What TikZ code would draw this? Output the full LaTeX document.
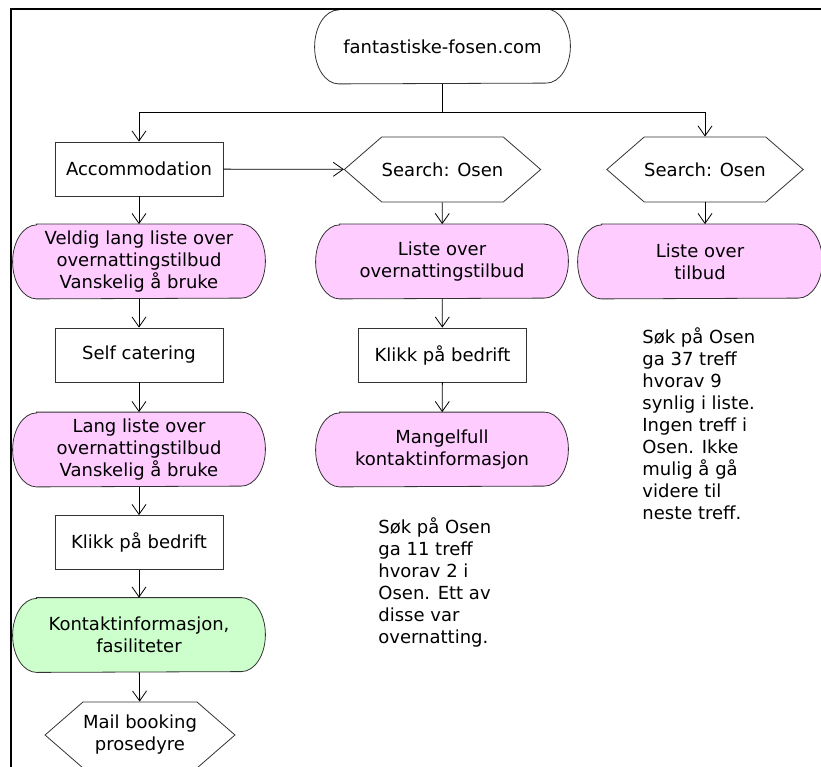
\documentclass[tikz,border=0pt]{standalone}
\usepackage{fontspec}
\setmainfont{DejaVu Sans}
\usetikzlibrary{shapes.symbols,arrows.meta,backgrounds}
\definecolor{pinkfill}{RGB}{255,204,255}
\definecolor{greenfill}{RGB}{204,255,204}

\begin{document}
\begin{tikzpicture}[x=1pt,y=-1pt,
    font=\fontsize{18}{22}\selectfont,
    every node/.style={draw=black!80, line width=0.8pt, align=center, inner sep=0pt},
    pill/.style={draw=none, minimum width=204, minimum height=74},
    box/.style={rectangle, minimum width=168, minimum height=54},
    hexa/.style={signal, signal from=nowhere, signal to=west and east,
                 signal pointer angle=82, minimum width=188, minimum height=65},
    note/.style={draw=none, anchor=north west, align=left},
    arr/.style={-{Straight Barb[length=10pt,width=14pt]}, line width=0.8pt}]

    \useasboundingbox (0,0) rectangle (821,767);
    \clip (0,0) rectangle (821,767);
    \path[draw, line width=2.5pt] (11,767) -- (11,9) -- (821,9);

    \node[pill, minimum width=207] (site) at (442.5,46.5) {fantastiske-fosen.com};

    \node[box] (accom) at (139,169) {Accommodation};
    \node[hexa] (search1) at (442.5,169.5) {Search: Osen};
    \node[hexa] (search2) at (705,169.5) {Search: Osen};

    \node[pill] (list1) at (139,261.5)
        {Veldig lang liste over\\overnattingstilbud\\Vanskelig å bruke};
    \node[pill] (list2) at (442,261.5) {Liste over\\overnattingstilbud};
    \node[pill, minimum width=196] (list3) at (700,261.5) {Liste over\\tilbud};

    \node[box] (selfcat) at (139,355) {Self catering};
    \node[box] (click2) at (442.5,355) {Klikk på bedrift};

    \node[pill] (list4) at (139,449.5)
        {Lang liste over\\overnattingstilbud\\Vanskelig å bruke};
    \node[pill] (missing) at (442,449.5) {Mangelfull\\kontaktinformasjon};

    \node[box] (click1) at (139,542.5) {Klikk på bedrift};
    \node[pill] (contact) at (139,635) {Kontaktinformasjon,\\fasiliteter};
    \node[hexa, minimum height=66] (mail) at (140,735) {Mail booking\\prosedyre};

    \node[note] (note1) at (378,517)
        {Søk på Osen\\ga 11 treff\\hvorav 2 i\\Osen. Ett av\\disse var\\overnatting.};
    \node[note] (note2) at (642,327)
        {Søk på Osen\\ga 37 treff\\hvorav 9\\synlig i liste.\\Ingen treff i\\Osen. Ikke\\mulig å gå\\videre til\\neste treff.};

    \begin{scope}[on background layer]
        \foreach \n/\c in {site/white, list1/pinkfill, list2/pinkfill, list3/pinkfill,
                           list4/pinkfill, missing/pinkfill, contact/greenfill}
            \path[draw=black!80, fill=\c, line width=0.8pt]
                (\n.north west) -- (\n.north east)
                arc[start angle=90, end angle=-90, x radius=24pt, y radius=37pt]
                -- (\n.south west)
                arc[start angle=270, end angle=90, x radius=24pt, y radius=37pt]
                -- cycle;
    \end{scope}

    \coordinate (split) at (site |- 0,112);
    \path[draw, line width=0.8pt] (site.south) -- (split);
    \draw[arr] (split) -| (accom);
    \draw[arr] (split) -| (search2);
    \draw[arr] (accom) -- (search1);
    \draw[arr] (search2.south) -- (search2.south |- list3.north);

    \foreach \a/\b in {accom/list1, search1/list2, list1/selfcat, selfcat/list4,
                       list4/click1, click1/contact, contact/mail,
                       list2/click2, click2/missing}
        \draw[arr] (\a) -- (\b);

\end{tikzpicture}
\end{document}
